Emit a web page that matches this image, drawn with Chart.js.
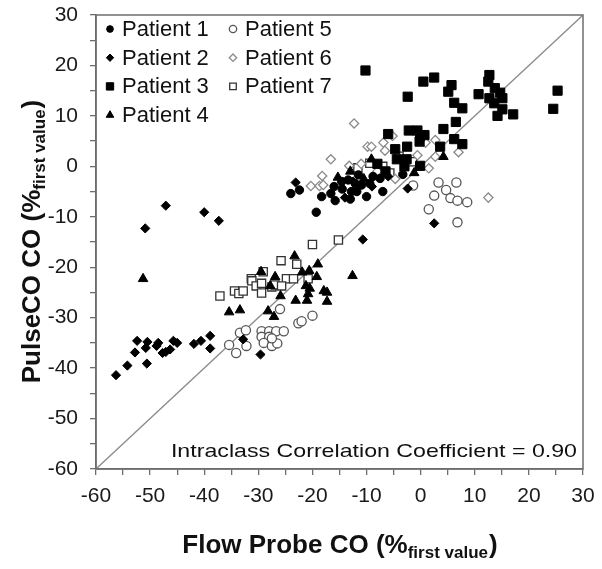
<!DOCTYPE html>
<html>
<head>
<meta charset="utf-8">
<script src="https://cdn.jsdelivr.net/npm/chart.js@4.4.0/dist/chart.umd.min.js"></script>
<style>
  html, body { margin: 0; padding: 0; background: #fff; }
  #wrap { width: 602px; height: 569px; }
</style>
</head>
<body>
<div id="wrap"><canvas id="chart" width="602" height="569"></canvas></div>
<script>
// values: [flow probe %, pulseCO %]
const patient1 = [[-24.0,-5.4],[-22.4,-4.7],[-18.3,-6.0],[-19.3,-9.1],[-16.6,-5.4],[-15.8,-6.8],[-16.0,-4.0],
  [-14.6,-3.0],[-13.4,-2.7],[-12.8,-5.0],[-11.8,-5.0],[-12.1,-3.4],[-13.0,-6.5],[-10.9,-3.7],[-9.4,-3.4],
  [-8.8,-2.0],[-7.5,-2.4],[-11.5,-1.7],[-3.3,-1.6],[-14.5,-4.5],[-10.0,-6.0],[-7.0,-5.0]];
const patient2 = [[-50.9,-12.3],[-47.1,-7.8],[-40.0,-9.1],[-37.3,-10.8],[-23.1,-3.2],[-14.0,-6.2],[-2.4,-4.4],
  [2.5,-11.3],[-10.7,-14.5],[-52.4,-34.6],[-50.5,-34.8],[-48.5,-35.0],[-45.7,-34.6],[-45.0,-35.0],[-50.8,-36.0],
  [-48.8,-35.6],[-47.7,-37.0],[-47.1,-36.8],[-46.3,-36.3],[-52.8,-36.9],[-54.2,-39.5],[-50.6,-39.1],[-56.3,-41.4],
  [-41.9,-35.2],[-40.6,-34.6],[-38.9,-33.6],[-38.9,-36.1],[-32.8,-34.3],[-29.6,-37.3],[-12.5,-3.0],[-9.0,-4.0],[-6.0,-2.0]];
const patient3 = [[-10.2,19.0],[0.5,16.8],[2.5,17.6],[-2.4,13.8],[5.7,16.1],[5.1,14.8],[6.2,12.6],[7.7,11.5],
  [10.7,14.3],[12.7,18.1],[12.5,16.8],[13.7,15.5],[14.7,14.6],[12.7,13.5],[15.1,13.5],[13.6,12.5],[15.1,11.3],
  [14.2,10.0],[17.1,10.3],[25.3,15.0],[24.5,11.4],[6.5,8.8],[4.2,7.4],[-2.2,7.1],[-0.6,7.1],[-0.1,6.0],[0.7,6.2],
  [-0.2,4.9],[-6.0,6.4],[6.2,5.4],[7.7,4.4],[3.6,3.9],[-2.5,3.9],[-4.7,3.4],[-4.4,1.4],[-2.6,1.4],[-0.1,0.1],
  [-8.0,0.5],[-6.5,-1.0],[-3.0,0.0]];
const patient4 = [[-15.3,-2.2],[-23.3,-17.8],[-19.0,-19.4],[-20.6,-20.7],[-21.9,-21.0],[-51.3,-22.3],[-29.5,-20.9],
  [-26.9,-21.9],[-19.2,-21.9],[-27.8,-23.7],[-25.9,-25.7],[-21.2,-23.7],[-20.5,-24.2],[-20.8,-25.3],[-21.0,-26.6],
  [-23.1,-26.6],[-17.9,-24.7],[-17.3,-25.0],[-17.3,-26.8],[-35.4,-28.9],[-33.4,-28.5],[-28.2,-28.7],[-27.1,-29.8],
  [-12.6,-21.7],[4.2,1.9],[-1.2,-1.3],[-9.1,1.4],[-13.0,-1.0],[-10.5,-2.5]];
const patient5 = [[3.3,-3.2],[6.6,-3.2],[4.7,-4.7],[2.5,-5.8],[5.5,-6.3],[6.8,-6.8],[8.6,-7.1],[1.5,-8.5],[6.8,-11.1],
  [-1.4,-3.8],[-26.0,-28.3],[-35.4,-35.4],[-34.1,-37.0],[-33.4,-33.0],[-32.3,-32.5],[-32.2,-35.6],[-29.4,-32.7],
  [-28.0,-32.7],[-26.7,-32.7],[-25.3,-32.7],[-29.4,-33.8],[-28.0,-33.8],[-29.0,-35.0],[-27.5,-35.6],[-26.5,-35.1],
  [-27.5,-34.1],[-22.6,-31.1],[-22.0,-30.7],[-20.0,-29.6]];
const patient6 = [[-12.3,8.5],[-9.8,3.9],[-9.1,3.9],[-6.9,4.7],[-5.2,6.0],[-6.6,3.1],[2.7,5.2],[7.0,2.8],[-0.6,2.2],
  [0.9,4.7],[12.5,-6.2],[1.5,-0.4],[2.7,1.9],[-13.2,0.1],[-4.7,-2.5],[-16.6,1.4],[-18.2,-1.9],[-20.3,-3.9],
  [-18.7,-3.9],[-18.0,-3.7],[-8.0,-1.0],[-11.0,0.5]];
const patient7 = [[-15.2,-14.6],[-1.5,0.9],[-20.0,-15.5],[-25.8,-18.7],[-22.9,-19.4],[-29.1,-20.9],[-31.3,-22.3],
  [-24.8,-22.3],[-23.5,-22.3],[-20.8,-22.3],[-37.1,-25.7],[-34.4,-24.7],[-33.6,-25.2],[-32.8,-24.7],[-31.2,-22.7],
  [-30.4,-23.7],[-29.4,-23.2],[-29.4,-25.1],[-27.5,-23.9],[-26.9,-23.5],[-25.7,-23.7],[-4.0,2.0],[-7.0,0.0],
  [-11.6,-0.3],[-9.4,0.6],[-5.7,-1.3]];
const identityLine = [-60, 30];
const axisTicks = [-60, -50, -40, -30, -20, -10, 0, 10, 20, 30];
const iccText = 'Intraclass Correlation Coefficient = 0.90';

const FONT = '"Liberation Sans", Arial, sans-serif';

function pts(arr) { return arr.map(p => ({ x: p[0], y: p[1] })); }

const series = [
  { label: 'Patient 1', data: patient1, style: 'circle',   r: 4.2, fill: '#000', edge: '#000', bw: 1 },
  { label: 'Patient 2', data: patient2, style: 'rectRot',  r: 4.6, fill: '#000', edge: '#000', bw: 1 },
  { label: 'Patient 3', data: patient3, style: 'rect',     r: 6.5, fill: '#000', edge: '#000', bw: 1 },
  { label: 'Patient 4', data: patient4, style: 'triangle', r: 5.5, fill: '#000', edge: '#000', bw: 1 },
  { label: 'Patient 5', data: patient5, style: 'circle',   r: 4.6, fill: '#fff', edge: '#555', bw: 1.3 },
  { label: 'Patient 6', data: patient6, style: 'rectRot',  r: 4.6, fill: '#fff', edge: '#8a8a8a', bw: 1.3 },
  { label: 'Patient 7', data: patient7, style: 'rect',     r: 5.8, fill: '#fff', edge: '#333', bw: 1.3 }
];

const datasets = series.map(s => ({
  type: 'scatter',
  label: s.label,
  data: pts(s.data),
  pointStyle: s.style,
  pointRadius: s.r,
  backgroundColor: s.fill,
  borderColor: s.edge,
  borderWidth: s.bw,
  order: 1
}));

datasets.push({
  type: 'line',
  label: 'identity',
  data: identityLine.map(v => ({ x: v, y: v })),
  borderColor: '#8c8c8c',
  borderWidth: 1.3,
  pointRadius: 0,
  fill: false,
  order: 5
});

// box, legend, axis titles and the ICC note
const extras = {
  id: 'extras',
  afterDraw(chart) {
    const { ctx, chartArea: a } = chart;
    ctx.save();
    ctx.strokeStyle = '#6e6e6e';
    ctx.lineWidth = 1.5;
    ctx.strokeRect(a.left, a.top, a.right - a.left, a.bottom - a.top);

    // legend in two columns
    ctx.font = '22px ' + FONT;
    ctx.textBaseline = 'middle';
    ctx.textAlign = 'left';
    series.forEach((s, i) => {
      const col = i < 4 ? 0 : 1;
      const row = i < 4 ? i : i - 4;
      const mx = a.left + 14 + col * 123;
      const my = a.top + 14 + row * 28.7;
      ctx.fillStyle = s.fill;
      ctx.strokeStyle = s.edge;
      ctx.lineWidth = s.bw;
      Chart.helpers.drawPoint(ctx, { pointStyle: s.style, radius: s.r * 0.8, borderWidth: s.bw }, mx, my);
      ctx.fillStyle = '#111';
      ctx.fillText(s.label, mx + 12, my + 1);
    });

    // ICC note - the figure's lettering is a bit wider than it is tall
    ctx.save();
    ctx.translate(a.right - 6, a.bottom - 12);
    ctx.scale(1.22, 1);
    ctx.font = '19px ' + FONT;
    ctx.textAlign = 'right';
    ctx.textBaseline = 'alphabetic';
    ctx.fillStyle = '#111';
    ctx.fillText(iccText, 0, 0);
    ctx.restore();

    // x title with subscript
    const xt = [['Flow Probe CO (%', 'bold 26px ' + FONT, 0], ['first value', 'bold 17px ' + FONT, 5], [')', 'bold 26px ' + FONT, 0]];
    drawRich(ctx, xt, (a.left + a.right) / 2, 553);
    // y title rotated
    ctx.save();
    ctx.translate(40, (a.top + a.bottom) / 2);
    ctx.rotate(-Math.PI / 2);
    drawRich(ctx, xt.map((p, i) => i === 0 ? ['PulseCO CO (%', p[1], 0] : p), 0, 0);
    ctx.restore();
    ctx.restore();
  }
};

function drawRich(ctx, parts, cx, baseY) {
  let total = 0;
  parts.forEach(p => { ctx.font = p[1]; total += ctx.measureText(p[0]).width; });
  let x = cx - total / 2;
  ctx.textAlign = 'left';
  ctx.textBaseline = 'alphabetic';
  ctx.fillStyle = '#111';
  parts.forEach(p => {
    ctx.font = p[1];
    ctx.fillText(p[0], x, baseY + p[2]);
    x += ctx.measureText(p[0]).width + (p[2] ? 1 : 0);
  });
}

function axisOpts(w, h) {
  return {
    type: 'linear',
    min: -60,
    max: 30,
    afterBuildTicks: sc => {
      const t = [];
      for (let v = -60; v <= 30; v += 5) t.push({ value: v });
      sc.ticks = t;
    },
    ticks: {
      autoSkip: false,
      maxRotation: 0,
      padding: h ? 9 : 12,
      color: '#1a1a1a',
      font: { family: FONT, size: 21 },
      callback: v => axisTicks.includes(v) ? String(v) : ''
    },
    grid: { drawOnChartArea: false, drawTicks: true, tickLength: 6, color: '#6e6e6e', lineWidth: 1.3 },
    border: { display: true, color: '#6e6e6e', width: 1.5 },
    afterFit: sc => {
      if (w) { sc.width = w; sc.paddingTop = 0; sc.paddingBottom = 0; }
      if (h) { sc.height = h; sc.paddingLeft = 0; sc.paddingRight = 0; }
    }
  };
}

new Chart(document.getElementById('chart'), {
  type: 'scatter',
  data: { datasets },
  options: {
    responsive: false,
    animation: false,
    layout: { padding: { top: 15, right: 19, left: 0, bottom: 0 } },
    plugins: { legend: { display: false }, tooltip: { enabled: false } },
    scales: {
      x: axisOpts(0, 100),
      y: axisOpts(96, 0)
    }
  },
  plugins: [extras]
});
</script>
</body>
</html>
